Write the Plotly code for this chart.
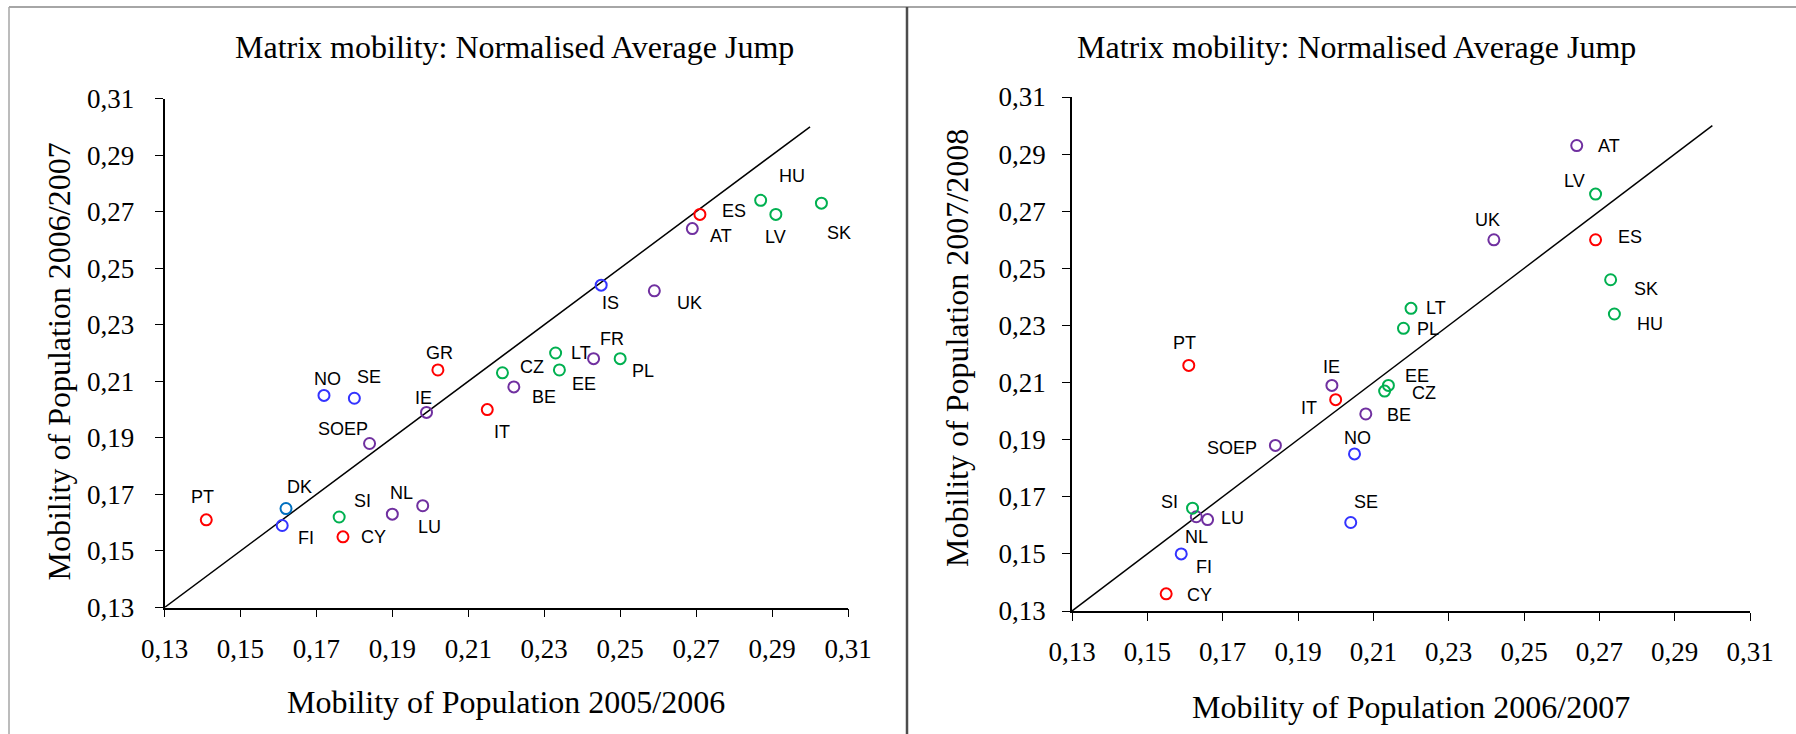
import plotly.graph_objects as go

W, H = 1796, 734

# ---------------- data ----------------
title_text = "Matrix mobility: Normalised Average Jump"
tick_vals = [0.13, 0.15, 0.17, 0.19, 0.21, 0.23, 0.25, 0.27, 0.29, 0.31]
diag = [0.13, 0.30]

countries_L = ["PT", "DK", "FI", "SI", "CY", "NL", "LU", "SOEP", "NO", "SE", "IE", "GR", "IT",
               "BE", "CZ", "EE", "LT", "FR", "PL", "IS", "UK", "AT", "ES", "HU", "LV", "SK"]
x_L = [0.141, 0.162, 0.161, 0.176, 0.177, 0.190, 0.198, 0.184, 0.172, 0.180, 0.199, 0.202, 0.215,
       0.222, 0.219, 0.234, 0.233, 0.243, 0.250, 0.245, 0.259, 0.269, 0.271, 0.287, 0.291, 0.303]
y_L = [0.161, 0.165, 0.159, 0.162, 0.155, 0.163, 0.166, 0.188, 0.205, 0.204, 0.199, 0.214, 0.200,
       0.208, 0.213, 0.214, 0.220, 0.218, 0.218, 0.244, 0.242, 0.264, 0.269, 0.274, 0.269, 0.273]

countries_R = ["CY", "FI", "NL", "LU", "SI", "SE", "NO", "SOEP", "PT", "IT", "IE", "BE", "CZ",
               "EE", "PL", "LT", "UK", "ES", "LV", "AT", "SK", "HU"]
x_R = [0.155, 0.159, 0.163, 0.166, 0.162, 0.204, 0.205, 0.184, 0.161, 0.200, 0.199, 0.208, 0.213,
       0.214, 0.218, 0.220, 0.242, 0.269, 0.269, 0.264, 0.273, 0.274]
y_R = [0.136, 0.150, 0.163, 0.162, 0.166, 0.161, 0.185, 0.188, 0.216, 0.204, 0.209, 0.199, 0.207,
       0.209, 0.229, 0.236, 0.260, 0.260, 0.276, 0.293, 0.246, 0.234]

group_of = {
    "PT": "south", "ES": "south", "GR": "south", "IT": "south", "CY": "south",
    "HU": "east", "LV": "east", "SK": "east", "LT": "east", "PL": "east", "CZ": "east",
    "EE": "east", "SI": "east",
    "IS": "nordic", "NO": "nordic", "SE": "nordic", "FI": "nordic", "DK": "dk",
    "AT": "west", "UK": "west", "FR": "west", "BE": "west", "IE": "west", "SOEP": "west",
    "NL": "west", "LU": "west",
}

# ---------------- styles ----------------
group_color = {"south": "#FF0000", "east": "#00B050", "nordic": "#3333FF",
               "dk": "#0070C0", "west": "#7030A0"}

# label offsets in pixels (dx right, dy down) relative to the point
off_L = {"PT": (-4, -22.7), "DK": (13.2, -21.7), "FI": (23.5, 12.7), "SI": (23.5, -15.7),
         "CY": (31, 0.3), "NL": (9.2, -21.3), "LU": (6.3, 21.7), "SOEP": (-26.4, -14),
         "NO": (3.4, -16.3), "SE": (14.9, -21), "IE": (-3.4, -14.7), "GR": (1.7, -17),
         "IT": (14.4, 22.3), "BE": (29.9, 10.3), "CZ": (29.3, -6), "EE": (24.7, 13.7),
         "LT": (25.3, 0), "FR": (18.9, -19.7), "PL": (22.4, 12.3), "IS": (9.8, 18.3),
         "UK": (35.6, 12.3), "AT": (28.7, 7.3), "ES": (33.9, -3.3), "HU": (31.6, -24.3),
         "LV": (0, 22.3), "SK": (17.2, 30.3)}
off_R = {"CY": (33.3, 0.7), "FI": (23, 13), "NL": (0.6, 20), "LU": (24.7, -1.7),
         "SI": (-23, -6.3), "SE": (14.9, -20.7), "NO": (3.4, -16), "SOEP": (-43.6, 3),
         "PT": (-4.6, -22.3), "IT": (-27, 8.7), "IE": (0, -18.3), "BE": (32.7, 0.7),
         "CZ": (39, 2), "EE": (28.7, -9.5), "PL": (24.1, 0.7), "LT": (25.3, -0.7),
         "UK": (-6.3, -19.3), "ES": (34.4, -3), "LV": (-20.7, -12.7), "AT": (32.1, 0.7),
         "SK": (35, 9.3), "HU": (35.6, 9.7)}

SERIF = "Liberation Serif, Times New Roman, serif"
SANS = "Liberation Sans, Arial, sans-serif"


def px(x):
    return x / W


def py(y):
    return 1 - y / H


fig = go.Figure()

panels = [
    dict(c=countries_L, x=x_L, y=y_L, off=off_L, xa="x", ya="y",
         dom_x=[px(164.5), px(848)], dom_y=[py(607.5), py(98.5)],
         xt="Mobility of Population 2005/2006", yt="Mobility of Population 2006/2007",
         title_pos=(514.6, 46.7), xt_pos=(505.8, 701.7), yt_pos=(59, 361.5)),
    dict(c=countries_R, x=x_R, y=y_R, off=off_R, xa="x2", ya="y2",
         dom_x=[px(1072), px(1750)], dom_y=[py(611), py(97)],
         xt="Mobility of Population 2006/2007", yt="Mobility of Population 2007/2008",
         title_pos=(1356, 46.7), xt_pos=(1410.6, 706.7), yt_pos=(957, 348)),
]

annotations = []
for i, p in enumerate(panels):
    fig.add_trace(go.Scatter(x=diag, y=diag, mode="lines", xaxis=p["xa"], yaxis=p["ya"],
                             line=dict(color="black", width=1.5), hoverinfo="skip"))
    fig.add_trace(go.Scatter(
        x=p["x"], y=p["y"], mode="markers", xaxis=p["xa"], yaxis=p["ya"],
        text=p["c"],
        marker=dict(symbol="circle-open", size=11,
                    color=[group_color[group_of[c]] for c in p["c"]],
                    line=dict(width=2)),
        cliponaxis=False))
    for c, xv, yv in zip(p["c"], p["x"], p["y"]):
        dx, dy = p["off"][c]
        annotations.append(dict(x=xv, y=yv, xref=p["xa"], yref=p["ya"], text=c,
                                showarrow=False, xshift=dx, yshift=-dy,
                                xanchor="center", yanchor="middle",
                                font=dict(family=SANS, size=18, color="black")))
    tx, ty = p["title_pos"]
    annotations.append(dict(x=px(tx), y=py(ty), xref="paper", yref="paper", text=title_text,
                            showarrow=False, xanchor="center", yanchor="middle",
                            font=dict(family=SERIF, size=32, color="black")))
    ax_, ay_ = p["xt_pos"]
    annotations.append(dict(x=px(ax_), y=py(ay_), xref="paper", yref="paper", text=p["xt"],
                            showarrow=False, xanchor="center", yanchor="middle",
                            font=dict(family=SERIF, size=32, color="black")))
    bx, by = p["yt_pos"]
    annotations.append(dict(x=px(bx), y=py(by), xref="paper", yref="paper", text=p["yt"],
                            showarrow=False, xanchor="center", yanchor="middle", textangle=-90,
                            font=dict(family=SERIF, size=32, color="black")))

axis_common = dict(range=[0.13, 0.31], tickvals=tick_vals, tickformat=".2f",
                   showgrid=False, zeroline=False, showline=True, linecolor="black",
                   linewidth=1.5, ticks="outside", ticklen=8, tickcolor="black", tickwidth=1,
                   automargin=False,
                   tickfont=dict(family=SERIF, size=27, color="black"))

layout_axes = {}
for i, p in enumerate(panels):
    sfx = "" if i == 0 else "2"
    layout_axes["xaxis" + sfx] = dict(axis_common, domain=p["dom_x"], anchor="y" + sfx,
                                      ticklabelstandoff=8)
    layout_axes["yaxis" + sfx] = dict(axis_common, domain=p["dom_y"], anchor="x" + sfx,
                                      ticklabelstandoff=15 if i == 0 else 11)

shapes = [
    dict(type="line", xref="paper", yref="paper", x0=px(9), x1=1, y0=py(7), y1=py(7),
         line=dict(color="#A6A6A6", width=2)),
    dict(type="line", xref="paper", yref="paper", x0=px(9), x1=px(9), y0=py(7), y1=0,
         line=dict(color="#A6A6A6", width=1.5)),
    dict(type="line", xref="paper", yref="paper", x0=px(907), x1=px(907), y0=py(7), y1=0,
         line=dict(color="#4D4D4D", width=2.5)),
]

fig.update_layout(width=W, height=H, margin=dict(l=0, r=0, t=0, b=0, autoexpand=False),
                  paper_bgcolor="white", plot_bgcolor="white", showlegend=False,
                  separators=",.", annotations=annotations, shapes=shapes, **layout_axes)

fig.write_html("out.html")
